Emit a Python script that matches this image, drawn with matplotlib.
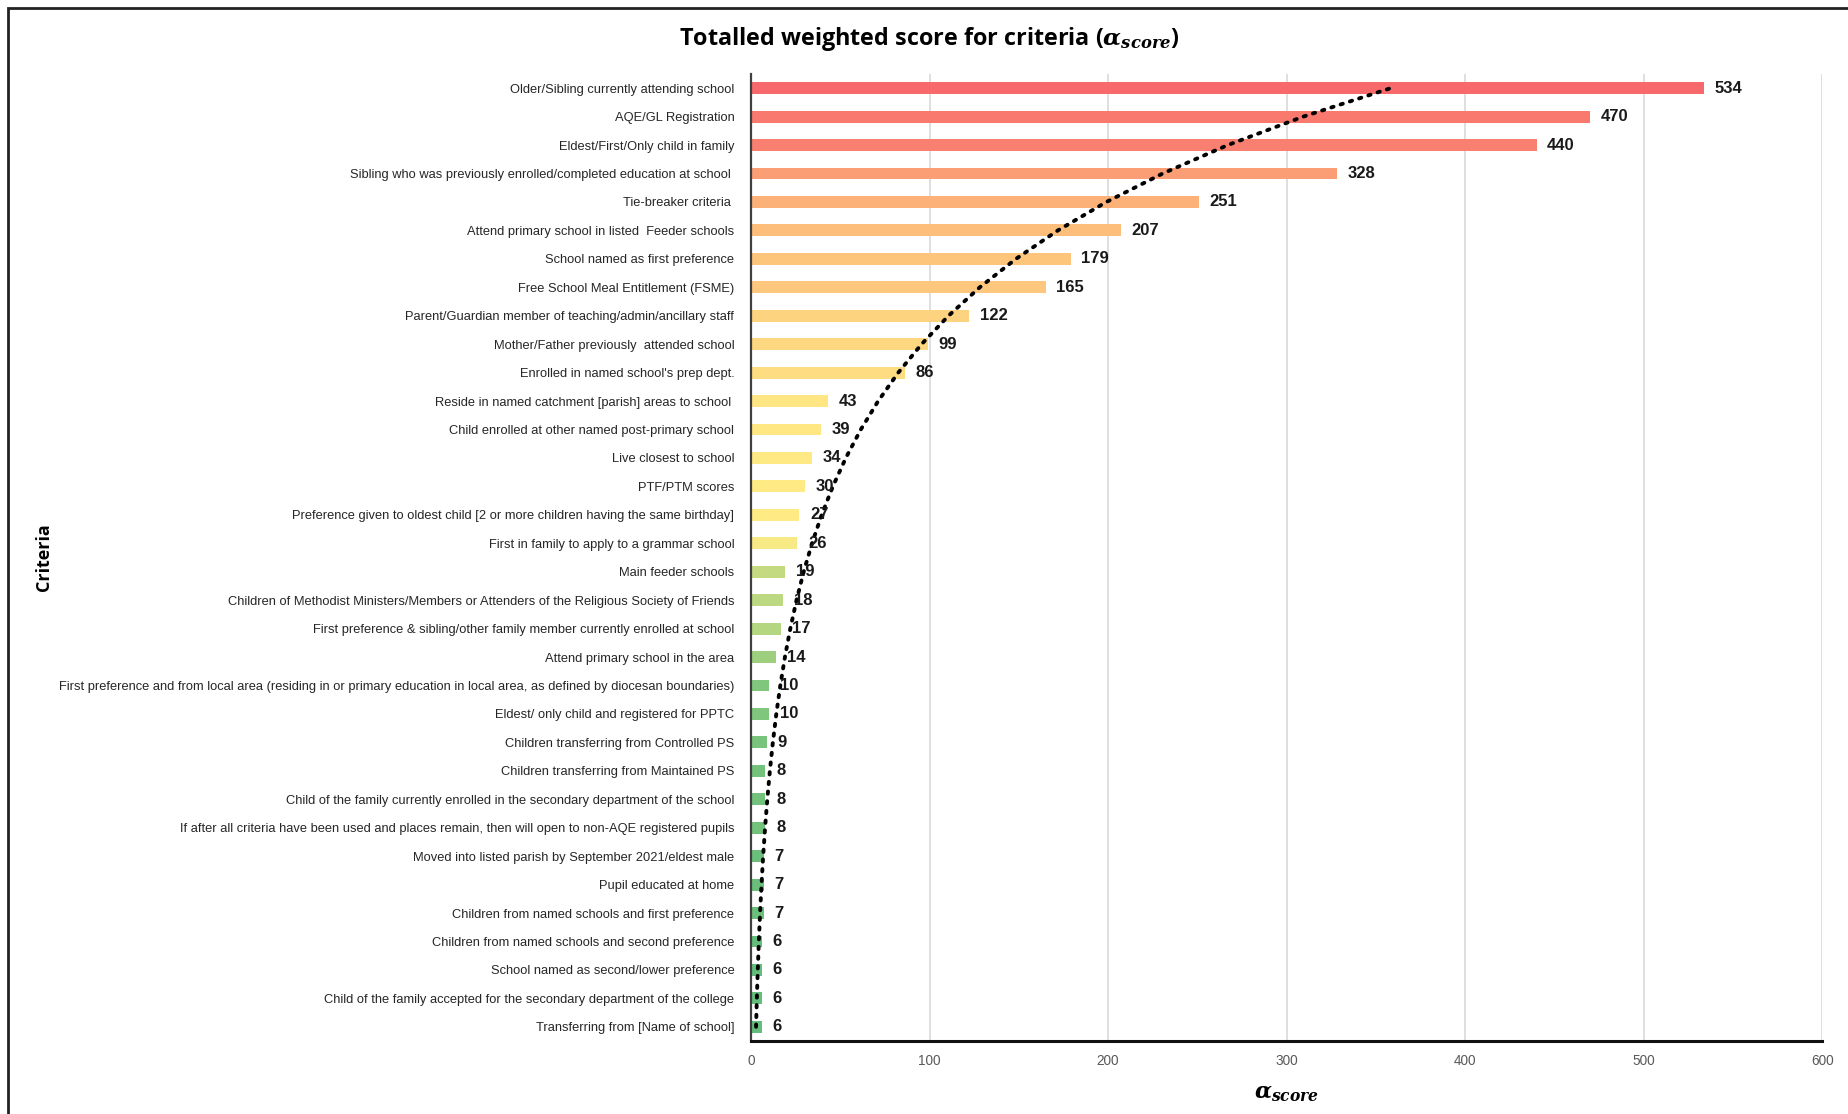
import numpy as np
import matplotlib
matplotlib.use("Agg")
import matplotlib.pyplot as plt
from matplotlib.colors import LinearSegmentedColormap, TwoSlopeNorm
from matplotlib.patches import Rectangle

# criteria listed top to bottom as in the chart
criteria = [
    "Older/Sibling currently attending school",
    "AQE/GL Registration",
    "Eldest/First/Only child in family",
    "Sibling who was previously enrolled/completed education at school ",
    "Tie-breaker criteria ",
    "Attend primary school in listed  Feeder schools",
    "School named as first preference",
    "Free School Meal Entitlement (FSME)",
    "Parent/Guardian member of teaching/admin/ancillary staff",
    "Mother/Father previously  attended school",
    "Enrolled in named school's prep dept.",
    "Reside in named catchment [parish] areas to school ",
    "Child enrolled at other named post-primary school",
    "Live closest to school",
    "PTF/PTM scores",
    "Preference given to oldest child [2 or more children having the same birthday]",
    "First in family to apply to a grammar school",
    "Main feeder schools",
    "Children of Methodist Ministers/Members or Attenders of the Religious Society of Friends",
    "First preference & sibling/other family member currently enrolled at school",
    "Attend primary school in the area",
    "First preference and from local area (residing in or primary education in local area, as defined by diocesan boundaries)",
    "Eldest/ only child and registered for PPTC",
    "Children transferring from Controlled PS",
    "Children transferring from Maintained PS",
    "Child of the family currently enrolled in the secondary department of the school",
    "If after all criteria have been used and places remain, then will open to non-AQE registered pupils",
    "Moved into listed parish by September 2021/eldest male",
    "Pupil educated at home",
    "Children from named schools and first preference",
    "Children from named schools and second preference",
    "School named as second/lower preference",
    "Child of the family accepted for the secondary department of the college",
    "Transferring from [Name of school]",
]
scores = [534, 470, 440, 328, 251, 207, 179, 165, 122, 99, 86, 43, 39, 34, 30,
          27, 26, 19, 18, 17, 14, 10, 10, 9, 8, 8, 8, 7, 7, 7, 6, 6, 6, 6]
x_ticks = [0, 100, 200, 300, 400, 500, 600]

label_font = ["Liberation Sans", "DejaVu Sans"]

plt.rcParams["mathtext.fontset"] = "custom"
plt.rcParams["mathtext.it"] = "DejaVu Serif:italic:bold"
plt.rcParams["mathtext.rm"] = "DejaVu Serif:bold"

fig = plt.figure(figsize=(18.48, 11.14), dpi=100)
ax = fig.add_axes([0.4064, 0.0655, 0.5796, 0.8681])

# Excel lists the first category at the bottom
pos = np.arange(len(scores))[::-1]
vals = np.array(scores)

cmap = LinearSegmentedColormap.from_list("rag", ["#63BE7B", "#FFEB84", "#F8696B"])
norm = TwoSlopeNorm(vmin=min(scores), vcenter=27, vmax=max(scores))
ax.barh(pos, vals, height=0.42, color=cmap(norm(vals)), zorder=2)

for p, v in zip(pos, vals):
    ax.text(v + 6, p, str(v), va="center", ha="left", fontsize=12,
            fontweight="bold", family=label_font, color="#1a1a1a", zorder=4)

# exponential trendline (least squares on log values, Excel style)
xi = np.arange(1, len(scores) + 1)
yi = vals[::-1]
b, lna = np.polyfit(xi, np.log(yi), 1)
trend = np.exp(lna + b * xi)
ax.plot(trend, xi - 1, color="black", lw=2.8, linestyle=(0, (0.6, 1.9)),
        dash_capstyle="round", zorder=3)

ax.set_yticks(pos)
ax.set_yticklabels(criteria, family=label_font, fontsize=9.3, color="#262626")
ax.set_ylim(-0.5, len(scores) - 0.5)
ax.set_xlim(0, 600)
ax.set_xticks(x_ticks)
ax.set_xticklabels([str(t) for t in x_ticks], family=label_font,
                   fontsize=9.8, color="#595959")
ax.tick_params(axis="both", length=0)
ax.tick_params(axis="y", pad=12)
ax.tick_params(axis="x", pad=9)
ax.grid(axis="x", color="#d9d9d9", lw=1.2, zorder=0)
ax.set_axisbelow(True)
for s in ["top", "right"]:
    ax.spines[s].set_visible(False)
ax.spines["left"].set_color("#404040")
ax.spines["left"].set_linewidth(1.6)
ax.spines["bottom"].set_color("#111111")
ax.spines["bottom"].set_linewidth(2.2)

ax.set_xlabel(r"$\alpha_{score}$", fontsize=16, labelpad=12)
fig.text(0.024, 0.50, "Criteria", rotation=90, ha="center", va="center",
         fontsize=13, fontweight="bold", family=["Open Sans", "DejaVu Sans"])
fig.text(0.503, 0.965, r"Totalled weighted score for criteria ($\alpha_{score}$)",
         ha="center", va="center", fontsize=16.8, fontweight="bold",
         family=["Open Sans", "DejaVu Sans"])

# outer frame of the original image
fig.patches.append(Rectangle((0.0045, -0.05), 1.2, 1.043, transform=fig.transFigure,
                             fill=False, edgecolor="#222222", lw=2.0))

fig.savefig("out.png", dpi=100, facecolor="white")
